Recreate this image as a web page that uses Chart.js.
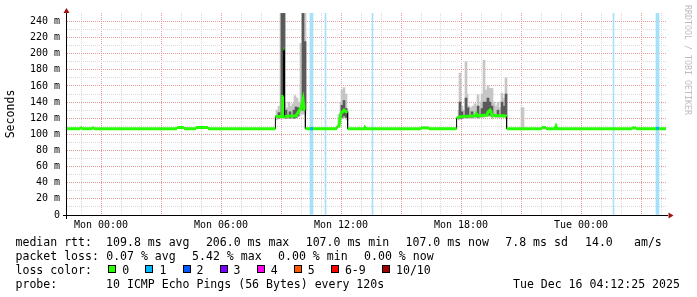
<!DOCTYPE html>
<html><head><meta charset="utf-8">
<script src="https://cdn.jsdelivr.net/npm/chart.js@4/dist/chart.umd.min.js"></script>
<style>
html,body{margin:0;padding:0;background:#fff;}
#wrap{position:relative;width:697px;height:297px;overflow:hidden;background:#fff;}
canvas{position:absolute;left:0;top:0;}
.t{position:absolute;font-family:'DejaVu Sans Mono',monospace;font-size:11.55px;line-height:14px;white-space:pre;color:#000;}
.box{position:absolute;width:8px;height:8px;box-sizing:border-box;border:1px solid #000;}
#wm{position:absolute;left:682.5px;top:5px;font-family:'DejaVu Sans Mono',monospace;font-size:8.3px;line-height:9px;color:#bdbdbd;writing-mode:vertical-rl;white-space:pre;}
</style></head>
<body><div id="wrap"><canvas id="c" width="697" height="297"></canvas><div id="footer"></div><div id="wm">RRDTOOL / TOBI OETIKER</div></div>
<script>
// ---- data (hours relative to Mon 00:00, values in ms) ----
const tickHours = [0, 6, 12, 18, 24];
const tickLabels = ['Mon 00:00', 'Mon 06:00', 'Mon 12:00', 'Mon 18:00', 'Tue 00:00'];
const gridHours = [-1,0,1,2,3,4,5,6,7,8,9,10,11,12,13,14,15,16,17,18,19,20,21,22,23,24,25,26,27,28];
const yGridValues = [0,10,20,30,40,50,60,70,80,90,100,110,120,130,140,150,160,170,180,190,200,210,220,230,240];

const medianTimes = [-1.70,-1.05,-1.05,-0.95,-0.95,-0.45,-0.45,-0.35,-0.35,3.80,3.80,4.15,4.15,4.75,4.75,5.35,5.35,
  8.72,8.72,9.05,9.08,9.12,9.12,9.17,9.17,9.75,9.85,10.00,10.10,10.15,10.22,10.22,
  11.80,11.80,11.90,11.95,12.00,12.15,12.25,12.33,12.33,
  13.20,13.22,13.26,16.00,16.00,16.40,16.40,
  17.78,17.78,17.95,18.75,18.78,18.85,19.30,19.35,19.45,19.50,19.55,19.75,20.20,20.28,20.28,
  22.05,22.05,22.25,22.25,22.70,22.75,22.80,26.55,26.55,26.75,26.75,28.25];
const medianValues = [107,107,108,108,107,107,108,108,107,107,108.5,108.5,107,107,108.5,108.5,107,
  107,122,122,147,147,206,206,122,123,127,133,143,131,131,107,
  107,110,110,120,126,130,128,128,107,
  107,108,107,107,108,108,107,
  107,120,122,123,125,123,124,128,130,127,124,123,123,122,107,
  107,108.5,108.5,107,107,110,107,107,108,108,107,107];

const lightTimes = [8.80,8.90,9.00,9.05,9.10,9.15,9.20,9.30,9.40,9.50,9.60,9.70,9.80,9.90,10.00,10.10,10.20,
  11.90,12.00,12.05,12.10,12.15,12.20,12.25,12.30,
  17.90,17.95,18.05,18.15,18.25,18.30,18.40,18.50,18.60,18.70,18.85,18.90,19.00,19.05,19.15,19.25,19.35,19.45,19.55,19.65,19.75,19.85,19.95,20.05,20.15,20.25,
  21.05,21.10];
const lightLow = [118,120,120,120,120,122,120,120,120,120,120,120,120,122,125,125,125,
  110,118,120,120,122,122,120,118,
  118,120,120,120,120,120,120,120,120,120,120,120,121,121,121,122,122,122,121,121,121,121,121,121,121,121,
  108,108];
const lightHigh = [130,135,250,250,250,250,140,133,140,135,138,148,145,140,213,250,250,
  125,140,155,148,158,140,150,132,
  130,176,135,130,190,150,135,133,135,138,149,135,140,150,192,155,160,157,157,140,135,140,133,151,145,170,
  133,133];

const darkTimes = [8.90,9.05,9.15,9.25,9.45,9.65,9.75,9.85,10.10,10.20,
  12.05,12.15,12.25,
  17.95,18.05,18.25,18.35,18.55,18.85,19.05,19.15,19.25,19.35,19.45,19.55,19.85,20.05,20.15,20.25];
const darkLow = [120,122,122,120,120,120,121,123,130,130,
  121,123,121,
  120,120,121,121,121,121,122,123,124,124,124,123,122,123,122,122];
const darkHigh = [127,250,250,130,128,130,134,133,250,215,
  136,142,132,
  140,128,145,133,128,135,132,140,140,145,140,135,130,140,135,150];

const lossWideTimes = [10.525, 27.825];
const lossThinTimes = [11.225, 13.575, 25.625];
const lossDotTimes = [10.525, 27.825];
const lossDotValues = [107, 107.5];

const statRow1 = ['median rtt:', '109.8 ms avg', '206.0 ms max', '107.0 ms min', '107.0 ms now', '7.8 ms sd', '14.0', 'am/s'];
const statRow2 = ['packet loss:', '0.07 % avg', '5.42 % max', '0.00 % min', '0.00 % now'];
const lossTitle = 'loss color:';
const lossLabels = ['0', '1', '2', '3', '4', '5', '6-9', '10/10'];
const lossColors = ['#26ff00', '#00b8ff', '#0059ff', '#7a00ff', '#ff00f0', '#ff5a00', '#ff0000', '#a10000'];
const probeRow = ['probe:', '10 ICMP Echo Pings (56 Bytes) every 120s'];
const stampText = 'Tue Dec 16 04:12:25 2025';

// ---- layout (style only) ----
const row1X = [15.5, 106.1, 205.9, 305.7, 405.5, 505.3, 585, 634];
const row2X = [15.5, 106.2, 192.1, 278.1, 364.1];
const boxX = [108.3, 145.4, 182.5, 219.6, 256.7, 293.8, 330.9, 381.7];
const lossLabelX = [122.3, 159.4, 196.5, 233.6, 270.7, 307.8, 344.9, 396];
const rowTop = [235, 249, 263, 277];

const footer = document.getElementById('footer');
function addText(txt, x, y) {
  const d = document.createElement('div');
  d.className = 't'; d.textContent = txt;
  d.style.left = x + 'px'; d.style.top = y + 'px';
  footer.appendChild(d);
}
statRow1.forEach((s, i) => addText(s, row1X[i], rowTop[0]));
statRow2.forEach((s, i) => addText(s, row2X[i], rowTop[1]));
addText(lossTitle, 15.5, rowTop[2]);
lossLabels.forEach((s, i) => {
  const b = document.createElement('div');
  b.className = 'box'; b.style.left = boxX[i] + 'px'; b.style.top = '264.5px';
  b.style.background = lossColors[i];
  footer.appendChild(b);
  addText(s, lossLabelX[i], rowTop[2]);
});
addText(probeRow[0], 15.5, rowTop[3]);
addText(probeRow[1], 106.1, rowTop[3]);
addText(stampText, 513, rowTop[3]);

// ---- chart ----
const MAJOR = '#e59a9a', MINOR = '#d9d9d9';
const median = medianTimes.map((t, i) => ({x: t, y: medianValues[i]}));
const axisPlugin = {
  id: 'rrdAxes',
  afterDatasetsDraw(chart) {
    const {ctx, chartArea: a} = chart;
    ctx.save();
    ctx.fillStyle = '#000';
    ctx.fillRect(a.left - 4, a.bottom, a.right - a.left + 6, 1);
    ctx.fillRect(a.left - 1, a.top - 1, 1, a.bottom - a.top + 5);
    ctx.fillStyle = '#a01010';
    ctx.beginPath(); ctx.moveTo(a.left - 0.5, a.top - 5); ctx.lineTo(a.left - 3.5, a.top); ctx.lineTo(a.left + 2.5, a.top); ctx.closePath(); ctx.fill();
    ctx.beginPath(); ctx.moveTo(a.right + 7.5, a.bottom + 0.5); ctx.lineTo(a.right + 2.5, a.bottom - 2.5); ctx.lineTo(a.right + 2.5, a.bottom + 3.5); ctx.closePath(); ctx.fill();
    ctx.restore();
  }
};

new Chart(document.getElementById('c'), {
  type: 'line',
  data: {
    datasets: [
      {type: 'line', label: 'loss', data: lossDotTimes.map((t, i) => ({x: t, y: lossDotValues[i]})), showLine: false,
        pointStyle: 'rect', pointRadius: 2.1, pointBorderWidth: 0, pointBackgroundColor: '#00b0f8', order: 0},
      {type: 'line', label: 'median', data: median, borderColor: '#26ff00', borderWidth: 3, pointRadius: 0, tension: 0,
        borderCapStyle: 'butt', borderJoinStyle: 'miter',
        segment: {borderColor: c => (c.p0.parsed.x === c.p1.parsed.x ? 'rgba(0,0,0,0)' : undefined)}, order: 1},
      {type: 'line', label: 'medianEdge', data: median, borderColor: '#000', borderWidth: 1, pointRadius: 0, tension: 0, order: 2},
      {type: 'bar', label: 'smokeDark', data: darkTimes.map((t, i) => ({x: t, y: [darkLow[i], darkHigh[i]]})),
        backgroundColor: '#5a5a5a', borderWidth: 0, barThickness: 2, grouped: false, order: 3},
      {type: 'bar', label: 'smokeLight', data: lightTimes.map((t, i) => ({x: t, y: [lightLow[i], lightHigh[i]]})),
        backgroundColor: '#c6c6c6', borderWidth: 0, barThickness: 2, grouped: false, order: 4},
      {type: 'bar', label: 'lossWide', data: lossWideTimes.map(t => ({x: t, y: [0, 250.5]})),
        backgroundColor: '#a6e1fb', borderWidth: 0, barThickness: 3, grouped: false, order: 5},
      {type: 'bar', label: 'lossThin', data: lossThinTimes.map(t => ({x: t, y: [0, 250.5]})),
        backgroundColor: '#a6e1fb', borderWidth: 0, barThickness: 1, grouped: false, order: 6}
    ]
  },
  options: {
    responsive: false, animation: false, devicePixelRatio: 1,
    layout: {padding: {top: 13, right: 31, left: 0, bottom: 0}},
    plugins: {legend: {display: false}, tooltip: {enabled: false}},
    scales: {
      x: {
        type: 'linear', min: -1.7, max: 28.25, offset: false,
        border: {display: false, dash: [1, 1]},
        grid: {offset: false, drawTicks: false, lineWidth: 1,
          color: c => (c.tick && Math.abs(c.tick.value % 3) < 1e-9 ? MAJOR : MINOR)},
        ticks: {autoSkip: false, maxRotation: 0, minRotation: 0, padding: 4.5, color: '#000',
          font: {family: 'DejaVu Sans Mono', size: 10},
          callback: v => { const k = tickHours.indexOf(v); return k >= 0 ? tickLabels[k] : ''; }},
        afterBuildTicks: s => { s.ticks = gridHours.map(v => ({value: v})); },
        afterFit: s => { s.height = 82; }
      },
      y: {
        type: 'linear', min: 0, max: 250.5,
        border: {display: false, dash: [1, 1]},
        grid: {drawTicks: false, lineWidth: 1,
          color: c => (c.tick && c.tick.value % 20 === 0 ? MAJOR : MINOR)},
        ticks: {autoSkip: false, padding: 7, color: '#000', font: {family: 'DejaVu Sans Mono', size: 10},
          callback: v => (v % 20 === 0 ? (v === 0 ? '0' : v + ' m') : '')},
        afterBuildTicks: s => { s.ticks = yGridValues.map(v => ({value: v})); },
        afterFit: s => { s.width = 67; },
        title: {display: true, text: 'Seconds', color: '#000',
          font: {family: 'DejaVu Sans Mono', size: 11.55, lineHeight: 1}, padding: {top: 5.7, bottom: 0}}
      }
    }
  },
  plugins: [axisPlugin]
});
</script>
</body></html>
